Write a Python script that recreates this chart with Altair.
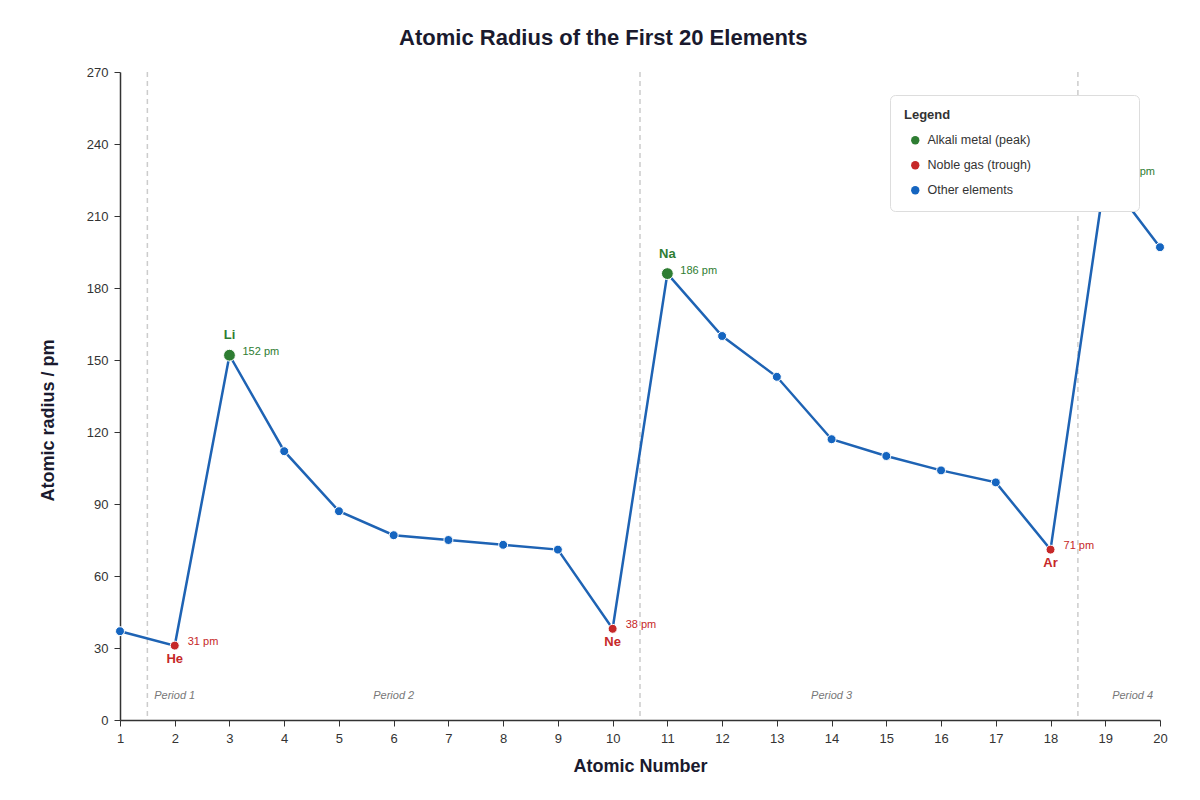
import altair as alt
import pandas as pd

# data
numbers = list(range(1, 21))
symbols = ["H", "He", "Li", "Be", "B", "C", "N", "O", "F", "Ne",
           "Na", "Mg", "Al", "Si", "P", "S", "Cl", "Ar", "K", "Ca"]
radii = [37, 31, 152, 112, 87, 77, 75, 73, 71, 38,
         186, 160, 143, 117, 110, 104, 99, 71, 227, 197]
alkali = ["Li", "Na", "K"]
noble = ["He", "Ne", "Ar"]

group_names = ["Alkali metal (peak)", "Noble gas (trough)", "Other elements"]
group_colors = ["#2e7d32", "#c62828", "#1565c0"]

period_breaks = [1.5, 10.5, 18.5]
period_names = ["Period 1", "Period 2", "Period 3", "Period 4"]
period_x = [2, 6, 14, 19.5]

def group_of(s):
    if s in alkali:
        return group_names[0]
    if s in noble:
        return group_names[1]
    return group_names[2]

source = pd.DataFrame({
    "Z": numbers,
    "symbol": symbols,
    "radius": radii,
    "group": [group_of(s) for s in symbols],
    "label": [f"{r} pm" for r in radii],
})
breaks = pd.DataFrame({"x": period_breaks})
periods = pd.DataFrame({"x": period_x, "name": period_names})

# non-breaking spaces (kept by a zero-width char) widen the legend box like the reference
pad = "\u00a0" * 27 + "\u200b"

x_enc = alt.X("Z:Q",
              scale=alt.Scale(domain=[1, 20], nice=False, zero=False),
              axis=alt.Axis(values=numbers, format="d", title="Atomic Number",
                            grid=False, titleFontSize=18, titlePadding=12,
                            labelPadding=6, tickSize=6, labelFlush=False))
y_enc = alt.Y("radius:Q",
              scale=alt.Scale(domain=[0, 270], nice=False),
              axis=alt.Axis(values=list(range(0, 271, 30)), title="Atomic radius / pm",
                            gridColor="#f2f2f2", titleFontSize=18, titlePadding=29,
                            titleY=348, labelPadding=6, tickSize=6))

base = alt.Chart(source)

dividers = alt.Chart(breaks).mark_rule(color="#cccccc", strokeWidth=1.5,
                                        strokeDash=[5, 4]).encode(x="x:Q")

period_text = alt.Chart(periods).mark_text(fontSize=11, fontStyle="italic",
                                           color="#777777").encode(
    x="x:Q", y=alt.datum(10), text="name:N")

line = base.mark_line(color="#1e63b4", strokeWidth=2.5).encode(x=x_enc, y=y_enc)

points = base.mark_point(filled=True, opacity=1, stroke="white", strokeWidth=1).encode(
    x="Z:Q", y="radius:Q",
    color=alt.Color("group:N",
                    scale=alt.Scale(domain=group_names, range=group_colors),
                    legend=alt.Legend(title="Legend", orient="none", legendX=770, legendY=23,
                                      padding=14, strokeColor="#dddddd", fillColor="white",
                                      cornerRadius=5, titleFontSize=13, titleColor="#333333",
                                      labelFontSize=12.5, labelColor="#333333",
                                      symbolType="circle", symbolSize=70, symbolOffset=5,
                                      symbolStrokeWidth=0, labelOffset=6, rowPadding=12,
                                      titlePadding=12, zindex=1, labelLimit=400,
                                      labelExpr=f"datum.label + '{pad}'")),
    size=alt.condition(f"datum.group == '{group_names[0]}'", alt.value(140), alt.value(80)),
)

alk = base.transform_filter(f"datum.group == '{group_names[0]}'")
nob = base.transform_filter(f"datum.group == '{group_names[1]}'")

alk_sym = alk.mark_text(fontSize=13, fontWeight="bold", color=group_colors[0],
                        dy=-20).encode(x="Z:Q", y="radius:Q", text="symbol:N")
alk_val = alk.mark_text(fontSize=11, color=group_colors[0], align="left",
                        dx=13, dy=-3).encode(x="Z:Q", y="radius:Q", text="label:N")
nob_sym = nob.mark_text(fontSize=13, fontWeight="bold", color=group_colors[1],
                        dy=13).encode(x="Z:Q", y="radius:Q", text="symbol:N")
nob_val = nob.mark_text(fontSize=11, color=group_colors[1], align="left",
                        dx=13, dy=-4).encode(x="Z:Q", y="radius:Q", text="label:N")

chart = alt.layer(
    dividers, period_text, line, points, alk_sym, alk_val, nob_sym, nob_val
).properties(
    width=1040,
    height=648,
    title=alt.TitleParams("Atomic Radius of the First 20 Elements", fontSize=22,
                          color="#1a1a2e", anchor="middle", frame="bounds", offset=16),
    autosize=alt.AutoSizeParams(type="none"),
    padding={"left": 112, "top": 64, "right": 24, "bottom": 64},
).configure(
    font="Liberation Sans",
).configure_view(
    stroke=None,
).configure_axis(
    labelFontSize=13, labelColor="#333333", tickColor="#333333",
    domainColor="#333333", domainWidth=1.5, titleColor="#1a1a2e", titleFontWeight="bold",
)

chart.save("out.html", embed_options={"renderer": "svg", "actions": False})
